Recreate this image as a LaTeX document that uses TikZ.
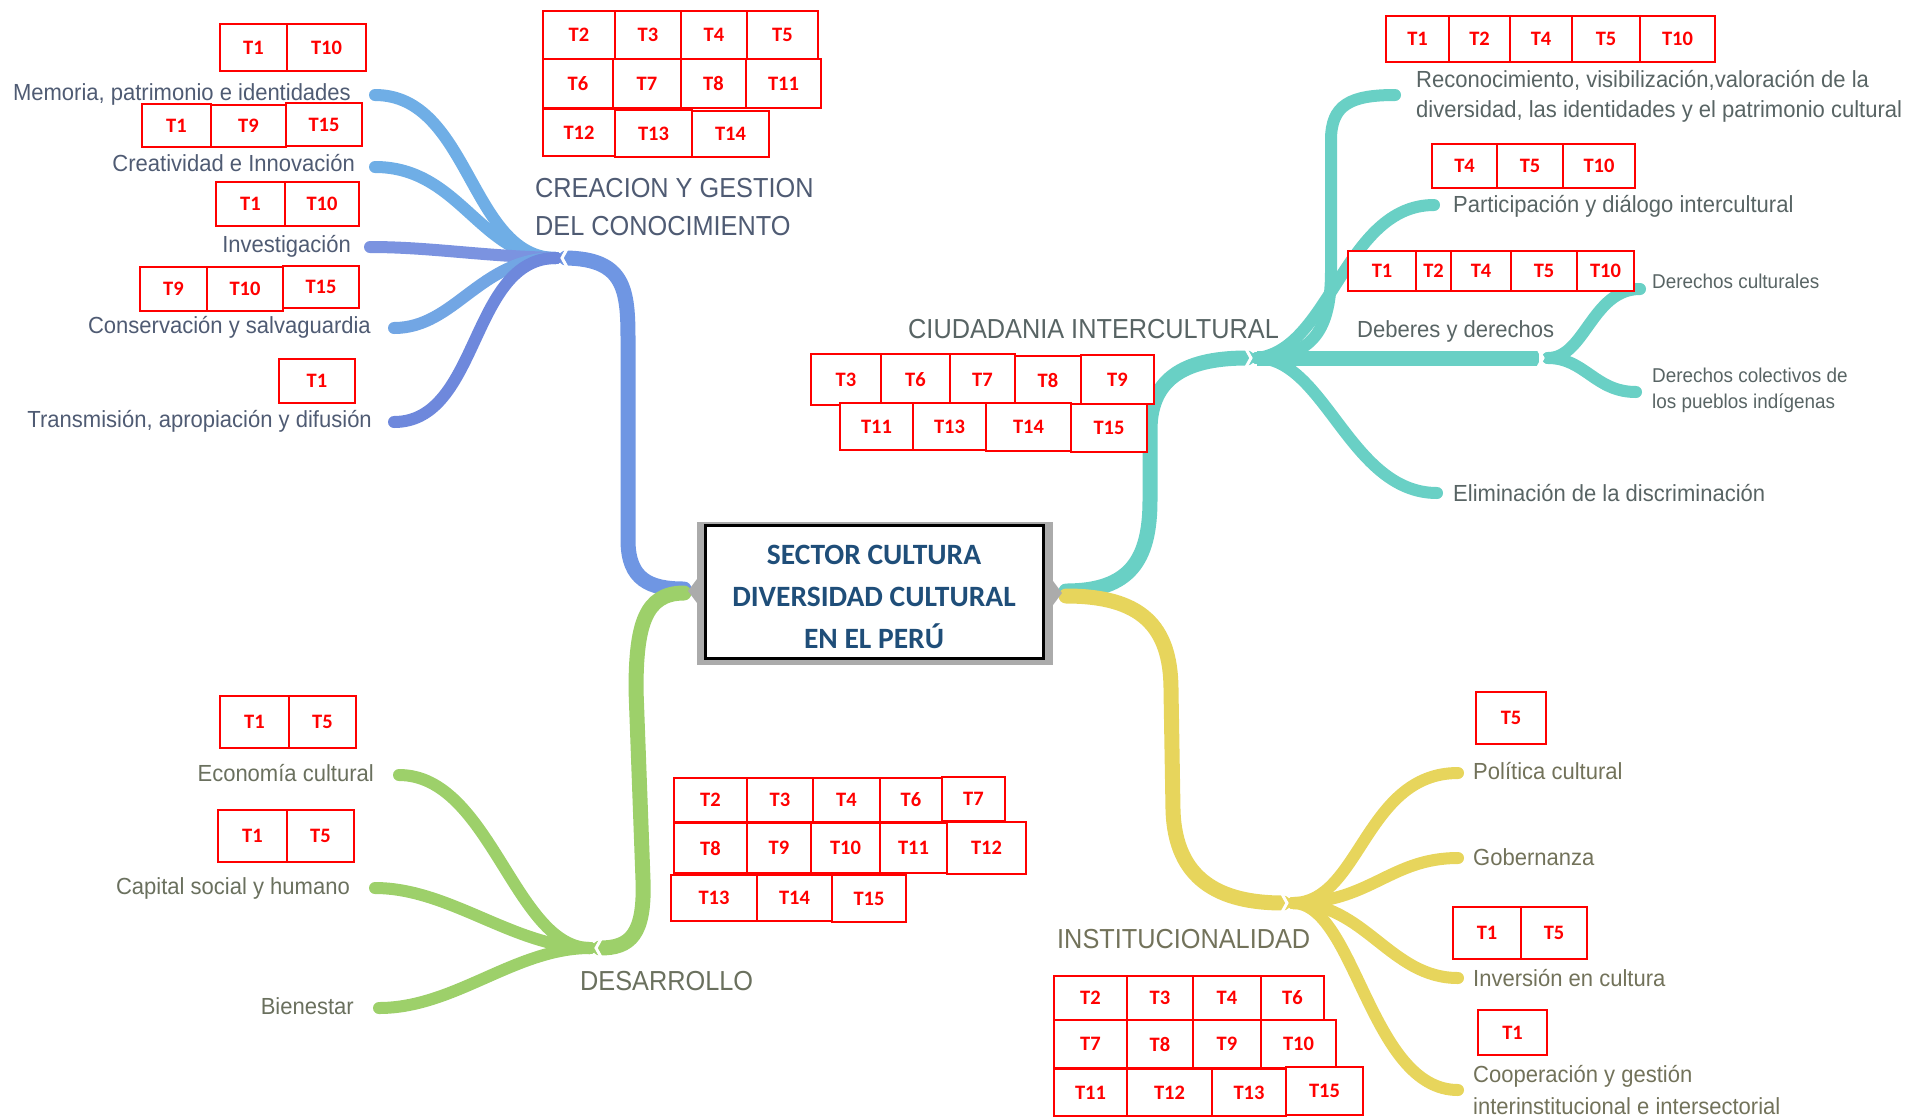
\documentclass[tikz,border=0pt]{standalone}
\usepackage{fontspec}
\setmainfont{Liberation Sans}
\newfontfamily\labf{Liberation Sans}[FakeStretch=0.945]
\newfontfamily\titf{Liberation Sans}[FakeStretch=0.92]
\newfontfamily\boxf{Carlito}
\definecolor{bluetrunk}{HTML}{6F96E3}
\definecolor{blueA}{HTML}{6FAEE6}
\definecolor{blueB}{HTML}{7B93E0}
\definecolor{blueC}{HTML}{6E88DC}
\definecolor{greenb}{HTML}{9DD06A}
\definecolor{tealb}{HTML}{69D0C5}
\definecolor{yellowb}{HTML}{E7D55C}
\definecolor{bluetxt}{HTML}{4F5B73}
\definecolor{greentxt}{HTML}{6A705E}
\definecolor{tealtxt}{HTML}{586464}
\definecolor{yellowtxt}{HTML}{72725A}
\definecolor{centertxt}{HTML}{1F4E79}
\definecolor{shadowgray}{HTML}{ABABAB}
\newcommand\tb[6]{%
  \pgfmathsetmacro\tbw{#4-#2}\pgfmathsetmacro\tbh{#5-#3}%
  \node[tbox, minimum width=\tbw pt, minimum height=\tbh pt] (#1) at ({(#2+#4)/2},{(#3+#5)/2}) {#6};}
\begin{document}
\begin{tikzpicture}[x=1pt,y=-1pt,
  trunk/.style={line width=15pt, line cap=round},
  branch/.style={line width=12pt, line cap=round},
  notch/.style={draw=white, line width=3pt},
  lab/.style={font=\labf\fontsize{23.3}{28}\selectfont, inner sep=0pt},
  labsmall/.style={font=\labf\fontsize{20}{24}\selectfont, inner sep=0pt},
  tit/.style={font=\titf\fontsize{27.5}{33}\selectfont, inner sep=0pt},
  tbox/.style={draw=red, line width=2pt, fill=white, text=red, inner sep=0pt,
    font=\boxf\bfseries\fontsize{20.5}{21}\selectfont},
  centerbox/.style={draw=black, line width=3pt, fill=white, inner sep=0pt}]
\useasboundingbox (0,0) rectangle (1910,1117);

% ---------- hubs and ends ----------
\coordinate (hB) at (562,258);
\coordinate (hG) at (596,948);
\coordinate (hT) at (1251,358);
\coordinate (hD) at (1543,358);
\coordinate (hY) at (1287,903);
\coordinate (bL1) at (684,589);
\coordinate (bL2) at (684,593);
\coordinate (bR1) at (1066,591);
\coordinate (bR2) at (1066,596);

% ---------- blue branch ----------
\draw[trunk, bluetrunk] (bL1) .. controls (650,589) and (628,580) .. (628,540) -- (628,340) .. controls (628,290) and (625,259) .. ([shift={(4,0)}]hB);
\draw[branch, blueA] ([shift={(-6,0)}]hB) .. controls (470,258) and (470,95) .. (375,95);
\draw[branch, blueA] ([shift={(-6,0)}]hB) .. controls (480,258) and (460,167) .. (375,167);
\draw[branch, blueB] ([shift={(-6,0)}]hB) .. controls (480,256) and (430,247) .. (370,247);
\draw[branch, blueA!70!blueB] ([shift={(-6,0)}]hB) .. controls (480,258) and (455,328) .. (394,328);
\draw[branch, blueC] ([shift={(-6,0)}]hB) .. controls (470,258) and (480,422) .. (394,422);
\draw[notch] ([shift={(5,9)}]hB) -- (hB) -- ([shift={(5,-9)}]hB);

% ---------- green branch ----------
\draw[trunk, greenb] (bL2) .. controls (645,593) and (636,625) .. (636,690) -- (643,880) .. controls (645,935) and (630,948) .. ([shift={(4,0)}]hG);
\draw[branch, greenb] ([shift={(-6,0)}]hG) .. controls (515,948) and (490,775) .. (399,775);
\draw[branch, greenb] ([shift={(-6,0)}]hG) .. controls (515,948) and (450,888) .. (375,888);
\draw[branch, greenb] ([shift={(-6,0)}]hG) .. controls (515,948) and (455,1008) .. (379,1008);
\draw[notch] ([shift={(5,9)}]hG) -- (hG) -- ([shift={(5,-9)}]hG);

% ---------- teal branch ----------
\draw[trunk, tealb] (bR1) .. controls (1130,591) and (1150,560) .. (1150,500) -- (1150,430) .. controls (1150,375) and (1190,358) .. ([shift={(-4,0)}]hT);
\draw[branch, tealb] ([shift={(6,0)}]hT) .. controls (1320,358) and (1331,320) .. (1331,270) -- (1331,140) .. controls (1331,105) and (1350,95) .. (1395,95);
\draw[branch, tealb] ([shift={(6,0)}]hT) .. controls (1330,350) and (1345,205) .. (1434,205);
\draw[trunk, tealb, line cap=butt] ([shift={(6,0)}]hT) -- ([shift={(-4,0)}]hD);
\draw[branch, tealb] ([shift={(5,0)}]hD) .. controls (1585,358) and (1592,289) .. (1640,289);
\draw[branch, tealb] ([shift={(5,0)}]hD) .. controls (1585,358) and (1595,392) .. (1636,392);
\draw[branch, tealb] ([shift={(6,0)}]hT) .. controls (1325,358) and (1350,493) .. (1437,493);
\draw[notch] ([shift={(-5,9)}]hT) -- (hT) -- ([shift={(-5,-9)}]hT);
\draw[notch] ([shift={(-5,9)}]hD) -- (hD) -- ([shift={(-5,-9)}]hD);

% ---------- yellow branch ----------
\draw[trunk, yellowb] (bR2) .. controls (1140,596) and (1171,625) .. (1171,690) -- (1173,810) .. controls (1175,880) and (1220,903) .. ([shift={(-4,0)}]hY);
\draw[branch, yellowb] ([shift={(6,0)}]hY) .. controls (1360,903) and (1365,773) .. (1458,773);
\draw[branch, yellowb] ([shift={(6,0)}]hY) .. controls (1370,903) and (1390,858) .. (1458,858);
\draw[branch, yellowb] ([shift={(6,0)}]hY) .. controls (1365,903) and (1390,978) .. (1458,978);
\draw[branch, yellowb] ([shift={(6,0)}]hY) .. controls (1355,903) and (1370,1090) .. (1458,1090);
\draw[notch] ([shift={(-5,9)}]hY) -- (hY) -- ([shift={(-5,-9)}]hY);

% ---------- central box ----------
\fill[shadowgray] (697,522) rectangle (1053,665);
\fill[shadowgray] (697,579) -- (688,591) -- (697,603) -- cycle;
\fill[shadowgray] (1053,581) -- (1062,593) -- (1053,605) -- cycle;
\node[centerbox, minimum width=338pt, minimum height=133pt] (cbox) at (874,591.5) {};
\node[align=center, text=centertxt, font=\boxf\bfseries\fontsize{29.5}{41.7}\selectfont, inner sep=0pt] (ctext) at (874,597)
  {SECTOR CULTURA\\DIVERSIDAD CULTURAL\\EN EL PERÚ};

% ---------- labels ----------
\begin{scope}[every node/.append style={text=bluetxt}]
\node[lab, anchor=base east] (lMem) at (351,100) {Memoria, patrimonio e identidades};
\node[lab, anchor=base east] (lCre) at (355,171) {Creatividad e Innovación};
\node[lab, anchor=base east] (lInv) at (351,252) {Investigación};
\node[lab, anchor=base east] (lCon) at (371,333) {Conservación y salvaguardia};
\node[lab, anchor=base east] (lTra) at (372,427) {Transmisión, apropiación y difusión};
\node[tit, anchor=base west] (tCre1) at (535,197) {CREACION Y GESTION};
\node[tit, anchor=base west] (tCre2) at (535,235) {DEL CONOCIMIENTO};
\end{scope}
\begin{scope}[every node/.append style={text=greentxt}]
\node[lab, anchor=base east] (lEco) at (374,781) {Economía cultural};
\node[lab, anchor=base east] (lCap) at (350,894) {Capital social y humano};
\node[lab, anchor=base east] (lBie) at (354,1014) {Bienestar};
\node[tit, anchor=base west] (tDes) at (580,990) {DESARROLLO};
\end{scope}
\begin{scope}[every node/.append style={text=tealtxt}]
\node[lab, anchor=base west] (lRec1) at (1416,87) {Reconocimiento, visibilización,valoración de la};
\node[lab, anchor=base west] (lRec2) at (1416,117) {diversidad, las identidades y el patrimonio cultural};
\node[lab, anchor=base west] (lPar) at (1453,212) {Participación y diálogo intercultural};
\node[labsmall, anchor=base west] (lDcu) at (1652,288) {Derechos culturales};
\node[lab, anchor=base west] (lDeb) at (1357,337) {Deberes y derechos};
\node[tit, anchor=base west] (tCiu) at (908,338) {CIUDADANIA INTERCULTURAL};
\node[labsmall, anchor=base west] (lDco1) at (1652,382) {Derechos colectivos de};
\node[labsmall, anchor=base west] (lDco2) at (1652,408) {los pueblos indígenas};
\node[lab, anchor=base west] (lEli) at (1453,501) {Eliminación de la discriminación};
\end{scope}
\begin{scope}[every node/.append style={text=yellowtxt}]
\node[lab, anchor=base west] (lPol) at (1473,779) {Política cultural};
\node[lab, anchor=base west] (lGob) at (1473,865) {Gobernanza};
\node[lab, anchor=base west] (lInvc) at (1473,986) {Inversión en cultura};
\node[lab, anchor=base west] (lCoo1) at (1473,1082) {Cooperación y gestión};
\node[lab, anchor=base west] (lCoo2) at (1473,1114) {interinstitucional e intersectorial};
\node[tit, anchor=base west] (tIns) at (1057,948) {INSTITUCIONALIDAD};
\end{scope}

% ---------- T boxes: blue ----------
\tb{a1}{220}{24}{287}{71}{T1}\tb{a2}{287}{24}{366}{71}{T10}
\tb{b1}{142}{104}{211}{147}{T1}\tb{b2}{211}{105}{286}{147}{T9}\tb{b3}{286}{103}{362}{146}{T15}
\tb{c1}{216}{182}{285}{226}{T1}\tb{c2}{285}{182}{359}{226}{T10}
\tb{d1}{140}{267}{207}{311}{T9}\tb{d2}{207}{267}{283}{311}{T10}\tb{d3}{283}{266}{359}{308}{T15}
\tb{e1}{279}{359}{355}{403}{T1}
\tb{f1}{543}{11}{615}{59}{T2}\tb{f2}{615}{11}{681}{59}{T3}\tb{f3}{681}{11}{747}{59}{T4}\tb{f4}{747}{11}{818}{59}{T5}
\tb{f5}{543}{59}{613}{108}{T6}\tb{f6}{613}{59}{681}{108}{T7}\tb{f7}{681}{59}{746}{108}{T8}\tb{f8}{746}{59}{821}{108}{T11}
\tb{f9}{543}{109}{615}{156}{T12}\tb{f10}{615}{110}{692}{157}{T13}\tb{f11}{692}{111}{769}{157}{T14}
% ---------- T boxes: green ----------
\tb{g1}{220}{696}{289}{748}{T1}\tb{g2}{289}{696}{356}{748}{T5}
\tb{h1}{218}{810}{287}{862}{T1}\tb{h2}{287}{810}{354}{862}{T5}
\tb{i1}{674}{778}{747}{822}{T2}\tb{i2}{747}{778}{813}{822}{T3}\tb{i3}{813}{778}{880}{822}{T4}\tb{i4}{880}{778}{942}{822}{T6}\tb{i5}{942}{777}{1005}{821}{T7}
\tb{i6}{674}{823}{747}{873}{T8}\tb{i7}{747}{823}{811}{873}{T9}\tb{i8}{811}{823}{880}{873}{T10}\tb{i9}{880}{823}{947}{873}{T11}\tb{i10}{947}{822}{1026}{874}{T12}
\tb{i11}{671}{875}{757}{921}{T13}\tb{i12}{757}{875}{832}{921}{T14}\tb{i13}{832}{875}{906}{922}{T15}
% ---------- T boxes: teal ----------
\tb{j1}{1386}{16}{1449}{62}{T1}\tb{j2}{1449}{16}{1510}{62}{T2}\tb{j3}{1510}{16}{1572}{62}{T4}\tb{j4}{1572}{16}{1640}{62}{T5}\tb{j5}{1640}{16}{1715}{62}{T10}
\tb{k1}{1432}{144}{1497}{188}{T4}\tb{k2}{1497}{144}{1563}{188}{T5}\tb{k3}{1563}{144}{1635}{188}{T10}
\tb{l1}{1348}{251}{1416}{291}{T1}\tb{l2}{1416}{251}{1451}{291}{T2}\tb{l3}{1451}{251}{1511}{291}{T4}\tb{l4}{1511}{251}{1577}{291}{T5}\tb{l5}{1577}{251}{1634}{291}{T10}
\tb{m1}{811}{354}{881}{405}{T3}\tb{m2}{881}{354}{950}{405}{T6}\tb{m3}{950}{354}{1015}{405}{T7}\tb{m4}{1015}{356}{1081}{404}{T8}\tb{m5}{1081}{355}{1154}{404}{T9}
\tb{m6}{840}{403}{913}{450}{T11}\tb{m7}{913}{403}{986}{450}{T13}\tb{m8}{986}{403}{1071}{451}{T14}\tb{m9}{1071}{404}{1147}{452}{T15}
% ---------- T boxes: yellow ----------
\tb{n1}{1476}{692}{1546}{744}{T5}
\tb{o1}{1453}{907}{1521}{959}{T1}\tb{o2}{1521}{907}{1587}{959}{T5}
\tb{p1}{1478}{1010}{1547}{1055}{T1}
\tb{q1}{1054}{976}{1127}{1020}{T2}\tb{q2}{1127}{976}{1193}{1020}{T3}\tb{q3}{1193}{976}{1261}{1020}{T4}\tb{q4}{1261}{976}{1324}{1020}{T6}
\tb{q5}{1054}{1020}{1127}{1068}{T7}\tb{q6}{1127}{1020}{1193}{1068}{T8}\tb{q7}{1193}{1020}{1261}{1068}{T9}\tb{q8}{1261}{1020}{1336}{1068}{T10}
\tb{q9}{1054}{1069}{1127}{1116}{T11}\tb{q10}{1127}{1069}{1212}{1116}{T12}\tb{q11}{1212}{1069}{1286}{1116}{T13}\tb{q12}{1286}{1067}{1363}{1115}{T15}
\end{tikzpicture}
\end{document}
